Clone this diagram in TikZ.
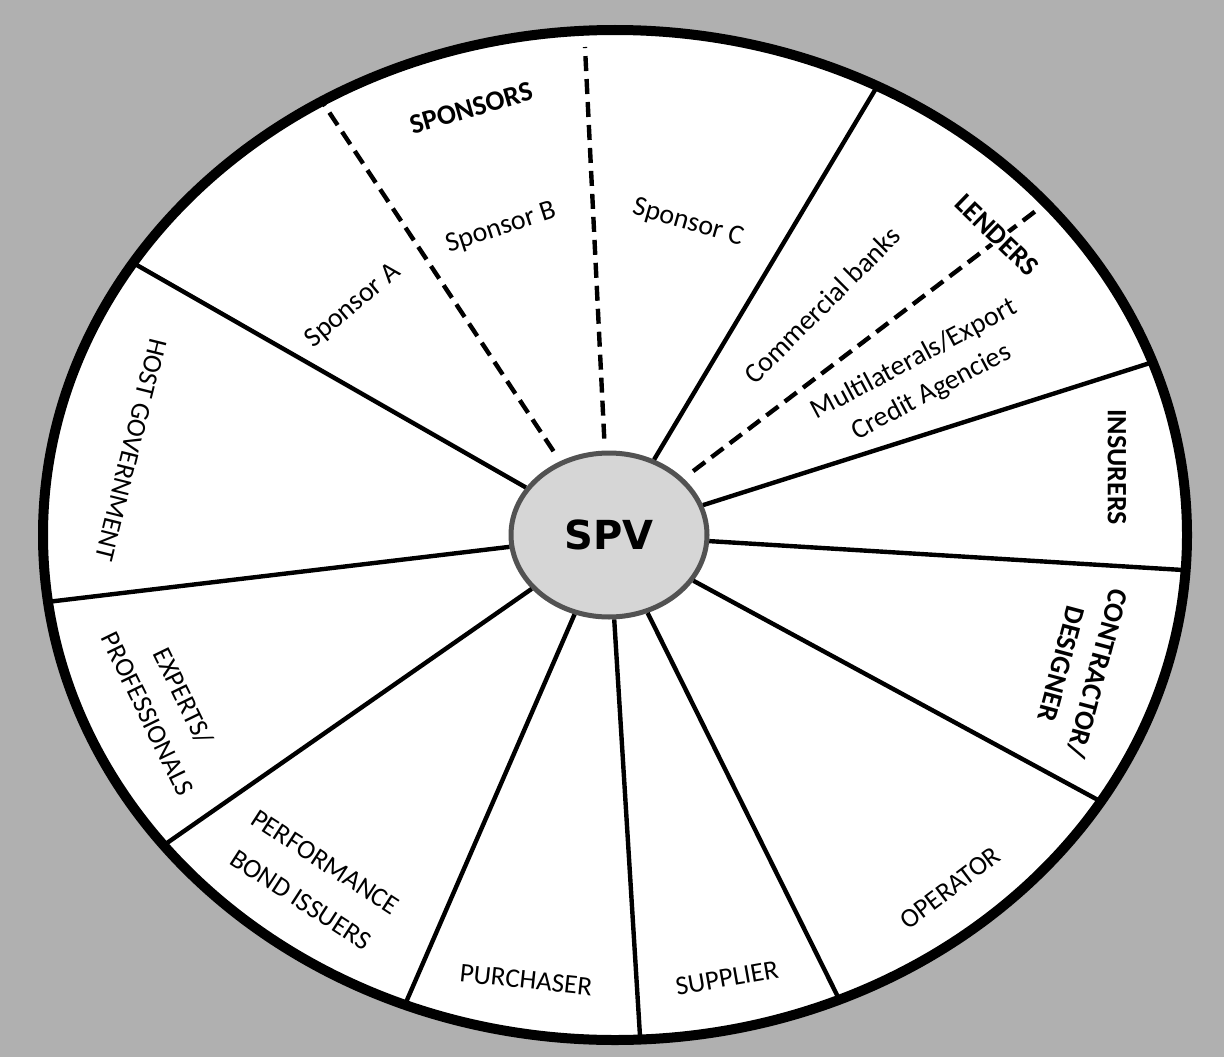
\documentclass[tikz,border=0pt]{standalone}
\usepackage{fontspec}
\setmainfont{Carlito}
\newfontfamily\spvfont{DejaVu Sans}
\usetikzlibrary{shapes.geometric}
\begin{document}
\begin{tikzpicture}[x=1pt,y=-1pt,
  spoke/.style={line width=4.4pt, shorten >=-3pt},
  split/.style={line width=4.4pt, dash pattern=on 15pt off 8pt, shorten <=12pt},
  tag/.style={inner sep=1pt, align=center, font=\fontsize{27}{32}\selectfont},
  tagmixed/.style={inner sep=1pt, align=center, font=\fontsize{28}{37}\selectfont},
  tagbold/.style={inner sep=1pt, align=center, font=\bfseries\fontsize{28}{37}\selectfont},
]
% grey ground and the white wheel
\fill[black!31] (0,0) rectangle (1224,1057);
\useasboundingbox (0,0) rectangle (1224,1057);
\fill[white] (615,535) ellipse [x radius=572, y radius=505];

% hub
\node[ellipse, draw=black!68, line width=5pt, fill=black!16,
      minimum width=196pt, minimum height=164pt, inner sep=0pt] (spv) at (609,535)
      {\spvfont\bfseries\fontsize{40}{42}\selectfont SPV};

% rim ends of the solid spokes
\coordinate (o1) at (135,264);
\coordinate (o2) at (875,90);
\coordinate (o3) at (1150,363);
\coordinate (o4) at (1183,570);
\coordinate (o5) at (1098,800);
\coordinate (o6) at (837,995);
\coordinate (o7) at (640,1036);
\coordinate (o8) at (407,1000);
\coordinate (o9) at (167,843);
\coordinate (o10) at (47,602);
% rim ends of the dashed sub-dividers
\coordinate (d1) at (323,103);
\coordinate (d2) at (585,47);
\coordinate (d3) at (1037,210);

\foreach \p in {o1,o2,o3,o4,o5,o6,o7,o8,o9,o10}
  \draw[spoke] (spv) -- (\p);
\foreach \p in {d1,d2,d3}
  \draw[split] (spv) -- (\p);

% rim
\draw[line width=10pt] (615,535) ellipse [x radius=572, y radius=505];

% sector labels
\node[tagbold, rotate=16] (sponsors) at (471,108) {SPONSORS};
\node[tagmixed, rotate=40] (spa) at (353,306) {Sponsor A};
\node[tagmixed, rotate=18] (spb) at (501,228) {Sponsor B};
\node[tagmixed, rotate=-16] (spc) at (688,223) {Sponsor C};
\node[tagmixed, rotate=45] (banks) at (822,305) {Commercial banks};
\node[tagbold, rotate=-44, fill=white] (lenders) at (997,235) {LENDERS};
\node[tagmixed, rotate=28] (multi) at (923,376) {Multilaterals/Export\\Credit Agencies};
\node[tagbold, rotate=-90] (ins) at (1117,467) {INSURERS};
\node[tagbold, rotate=-105] (contr) at (1080,669) {CONTRACTOR/\\DESIGNER};
\node[tag, rotate=37] (oper) at (950,888) {OPERATOR};
\node[tag, rotate=10] (supp) at (727,978) {SUPPLIER};
\node[tag, rotate=-6] (purch) at (526,980) {PURCHASER};
\node[tag, rotate=-33, font=\fontsize{27}{45}\selectfont] (perf) at (313,881) {PERFORMANCE\\BOND ISSUERS};
\node[tag, rotate=-64, font=\fontsize{27}{40}\selectfont] (exp) at (166,705) {EXPERTS/\\PROFESSIONALS};
\node[tag, rotate=-104] (host) at (131,450) {HOST GOVERNMENT};
\end{tikzpicture}
\end{document}
